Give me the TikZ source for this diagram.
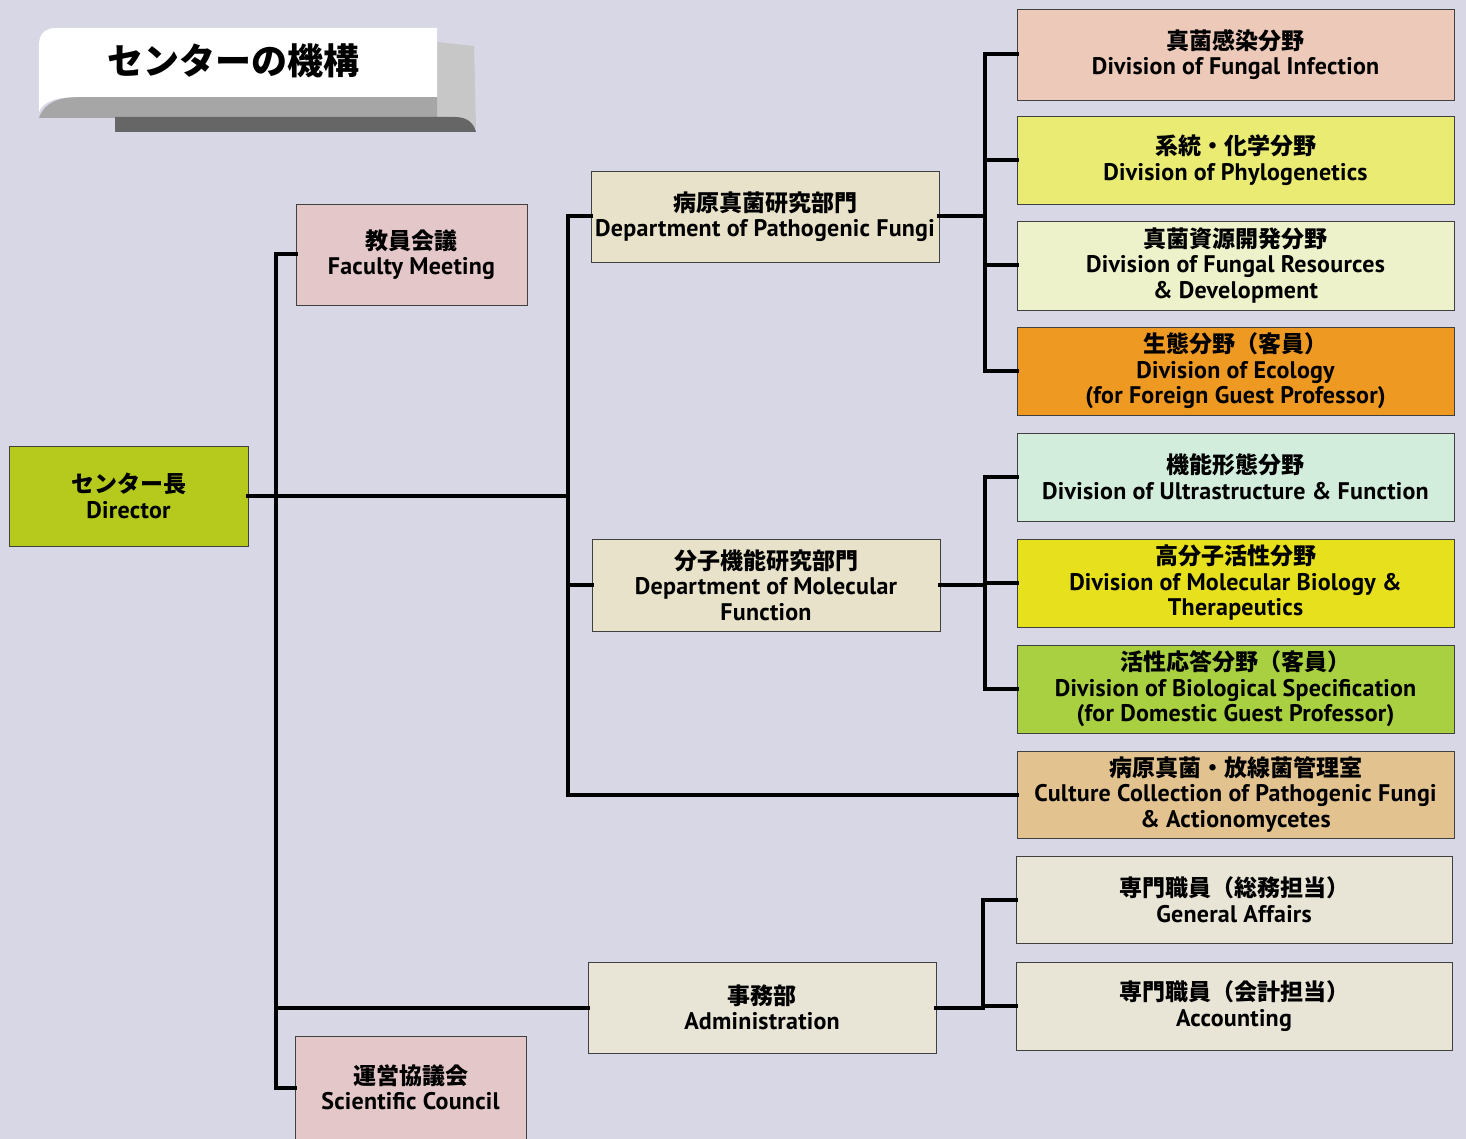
\documentclass[tikz,border=0pt]{standalone}
\usepackage{fontspec}
\newfontfamily\en{PT Sans}[LetterSpace=1]
\newfontfamily\jp{Noto Sans CJK JP}
\newcommand\jpline[1]{{\jp\bfseries\fontsize{23}{25}\selectfont #1}}
\definecolor{bgc}{HTML}{D8D7E6}
\definecolor{pinkc}{HTML}{E4C7C9}
\definecolor{dirc}{HTML}{B5CA1C}
\definecolor{beigec}{HTML}{E8E2CA}
\definecolor{fic}{HTML}{EDC9BA}
\definecolor{phc}{HTML}{E9EB73}
\definecolor{frc}{HTML}{EDF2CB}
\definecolor{ecc}{HTML}{EE9A22}
\definecolor{ulc}{HTML}{D3EDDD}
\definecolor{mbc}{HTML}{E7E01C}
\definecolor{bsc}{HTML}{A8D040}
\definecolor{ccc}{HTML}{E2C390}
\definecolor{adc}{HTML}{E8E4D6}
\tikzset{
  box/.style={draw=black!75, line width=0.9pt, align=center, inner sep=0pt,
    font=\en\bfseries\fontsize{24}{25.5}\selectfont},
  conn/.style={line width=4pt, line cap=rect, line join=miter}
}
\begin{document}
\begin{tikzpicture}[x=1pt,y=-1pt]
\fill[bgc] (0,0) rectangle (1466,1139);
\useasboundingbox (0,0) rectangle (1466,1139);
% title banner
\fill[black!22] (437,42) -- (474,46) -- (476,128) -- (437,128) -- cycle;
\fill[black!35] (39,118) .. controls (44,103) and (58,97) .. (80,97) -- (437,97) -- (437,118) -- cycle;
\fill[black!60] (115,117) -- (455,117) .. controls (468,117) and (474,124) .. (476,132) -- (115,132) -- cycle;
\fill[white] (39,112) -- (39,45) .. controls (39,34) and (45,28) .. (56,28) -- (437,28) -- (437,97) -- (78,97) .. controls (55,97) and (43,102) .. (39,112) -- cycle;
\node[font=\jp\bfseries\fontsize{36}{40}\selectfont] (title) at (233,61) {センターの機構};
% left column
\node[box, fill=dirc, minimum width=239, minimum height=100] (dir) at (128.5,496) {\jpline{センター長}\\Director};
\node[box, fill=pinkc, minimum width=231, minimum height=101] (fm) at (411.5,254.5) {\jpline{教員会議}\\Faculty Meeting};
\node[box, fill=pinkc, minimum width=231, minimum height=103] (sc) at (410.5,1087.5) {\jpline{運営協議会}\\Scientific Council};
% departments
\node[box, fill=beigec, minimum width=348, minimum height=91] (pf) at (765,216.5) {\jpline{病原真菌研究部門}\\Department of Pathogenic Fungi};
\node[box, fill=beigec, minimum width=348, minimum height=92] (mf) at (766,585) {\jpline{分子機能研究部門}\\Department of Molecular\\Function};
\node[box, fill=adc, minimum width=348, minimum height=91] (ad) at (762,1007.5) {\jpline{事務部}\\Administration};
% divisions
\node[box, fill=fic, minimum width=437, minimum height=91] (fi) at (1235.5,54.5) {\jpline{真菌感染分野}\\Division of Fungal Infection};
\node[box, fill=phc, minimum width=437, minimum height=88] (ph) at (1235.5,160) {\jpline{系統・化学分野}\\Division of Phylogenetics};
\node[box, fill=frc, minimum width=437, minimum height=89] (fr) at (1235.5,265.5) {\jpline{真菌資源開発分野}\\Division of Fungal Resources\\\& Development};
\node[box, fill=ecc, minimum width=437, minimum height=88] (ec) at (1235.5,371) {\jpline{生態分野（客員）}\\Division of Ecology\\(for Foreign Guest Professor)};
\node[box, fill=ulc, minimum width=437, minimum height=88] (ul) at (1235.5,477) {\jpline{機能形態分野}\\Division of Ultrastructure \& Function};
\node[box, fill=mbc, minimum width=437, minimum height=88] (mb) at (1235.5,583) {\jpline{高分子活性分野}\\Division of Molecular Biology \&\\Therapeutics};
\node[box, fill=bsc, minimum width=437, minimum height=88] (bs) at (1235.5,689) {\jpline{活性応答分野（客員）}\\Division of Biological Specification\\(for Domestic Guest Professor)};
\node[box, fill=ccc, minimum width=437, minimum height=87] (cc) at (1235.5,794.5) {\jpline{病原真菌・放線菌管理室}\\Culture Collection of Pathogenic Fungi\\\& Actionomycetes};
\node[box, fill=adc, minimum width=436, minimum height=87] (ga) at (1234,899.5) {\jpline{専門職員（総務担当）}\\General Affairs};
\node[box, fill=adc, minimum width=436, minimum height=88] (ac) at (1234,1006) {\jpline{専門職員（会計担当）}\\Accounting};
% buses
\coordinate (b1) at (276,0);
\coordinate (b2) at (568,0);
\coordinate (b3) at (985,0);
\coordinate (b5) at (983,0);
\draw[conn] (fm.west) -- (fm.west -| b1) -- (sc.west -| b1) -- (sc.west);
\draw[conn] (ad.west) -- (ad.west -| b1);
\draw[conn] (dir.east) -- (dir.east -| b2);
\draw[conn] (pf.west) -- (pf.west -| b2) -- (cc.west -| b2) -- (cc.west);
\draw[conn] (mf.west) -- (mf.west -| b2);
\draw[conn] (pf.east) -- (pf.east -| b3);
\draw[conn] (fi.west) -- (fi.west -| b3) -- (ec.west -| b3) -- (ec.west);
\draw[conn] (ph.west) -- (ph.west -| b3);
\draw[conn] (fr.west) -- (fr.west -| b3);
\draw[conn] (mf.east) -- (mf.east -| b3);
\draw[conn] (ul.west) -- (ul.west -| b3) -- (bs.west -| b3) -- (bs.west);
\draw[conn] (mb.west) -- (mb.west -| b3);
\draw[conn] (ad.east) -- (ad.east -| b5);
\draw[conn] (ga.west) -- (ga.west -| b5) -- (ac.west -| b5) -- (ac.west);
\end{tikzpicture}
\end{document}
